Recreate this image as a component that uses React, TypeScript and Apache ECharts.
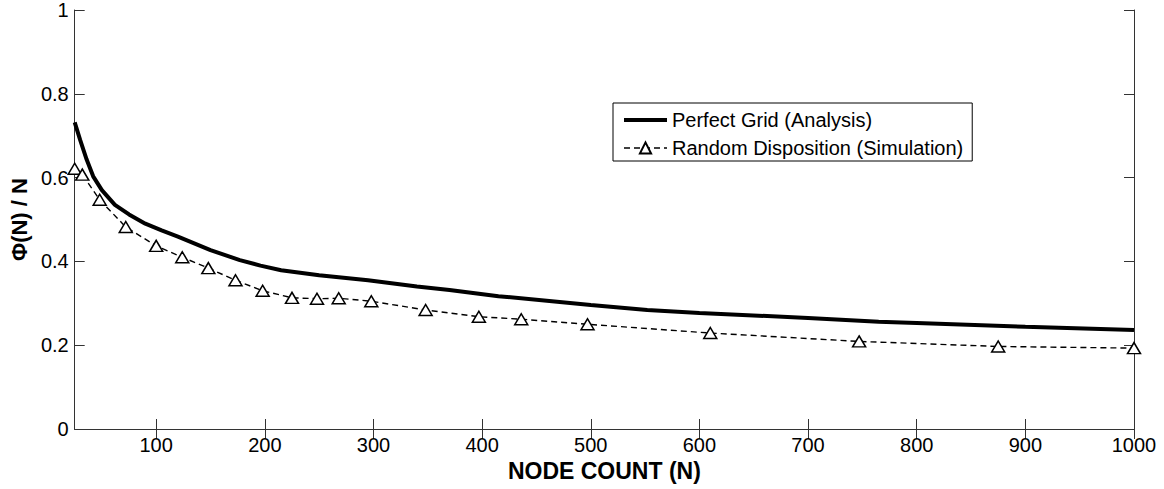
import React, { useEffect, useRef } from "react";
import * as echarts from "echarts";

const xTicks = [100, 200, 300, 400, 500, 600, 700, 800, 900, 1000];

const gridN = [25, 30, 36, 42, 50, 62, 75, 90, 105, 120, 150, 177, 196, 215, 250, 295, 340, 370, 415, 500, 552, 600, 700, 765, 800, 900, 1000];
const gridPhi = [0.732, 0.69, 0.643, 0.603, 0.57, 0.535, 0.512, 0.49, 0.474, 0.459, 0.427, 0.403, 0.39, 0.379, 0.367, 0.355, 0.34, 0.332, 0.317, 0.296, 0.284, 0.277, 0.265, 0.256, 0.253, 0.244, 0.236];

const randN = [25, 32, 48, 72, 100, 124, 148, 173, 198, 225, 248, 268, 298, 348, 397, 436, 497, 610, 747, 875, 1000];
const randPhi = [0.621, 0.607, 0.547, 0.482, 0.437, 0.41, 0.384, 0.355, 0.33, 0.313, 0.311, 0.312, 0.305, 0.284, 0.268, 0.262, 0.25, 0.229, 0.209, 0.197, 0.193];

const FONT = "'Liberation Sans', Arial, sans-serif";

export default function App() {
  const ref = useRef<HTMLDivElement>(null);
  useEffect(() => {
    if (!ref.current) return;
    const chart = echarts.init(ref.current, undefined, { renderer: "svg" });
    const axisLine = { show: true, lineStyle: { color: "#333", width: 1 } };
    chart.setOption({
      animation: false,
      backgroundColor: "#fff",
      grid: { left: 74, right: 30, top: 10, bottom: 60 },
      legend: {
        orient: "vertical",
        left: 613,
        top: 103,
        padding: [7, 9, 3, 9],
        itemGap: 8,
        itemWidth: 43,
        itemHeight: 14,
        borderColor: "#000",
        borderWidth: 1,
        backgroundColor: "#fff",
        textStyle: { fontFamily: FONT, fontSize: 20, color: "#000", lineHeight: 20 },
        data: [
          { name: "Perfect Grid (Analysis)", itemStyle: { opacity: 0 }, lineStyle: { width: 4, color: "#000" } },
          { name: "Random Disposition (Simulation)", lineStyle: { width: 1.4, color: "#000", type: [6, 4] } },
        ],
      },
      xAxis: [
        {
          type: "value",
          min: 25,
          max: 1000,
          position: "bottom",
          name: "NODE COUNT (N)",
          nameLocation: "middle",
          nameGap: 30,
          nameTextStyle: { fontFamily: FONT, fontSize: 23, fontWeight: "bold", color: "#000" },
          axisLine,
          axisTick: { show: true, inside: true, length: 10, customValues: xTicks, lineStyle: { color: "#333" } },
          axisLabel: {
            show: true,
            customValues: xTicks,
            margin: 6,
            fontFamily: FONT,
            fontSize: 20,
            color: "#000",
            formatter: (v: number) => String(v),
          },
          splitLine: { show: false },
        },
        {
          type: "value",
          min: 25,
          max: 1000,
          position: "top",
          axisLine,
          axisTick: { show: true, inside: true, length: 10, customValues: xTicks, lineStyle: { color: "#333" } },
          axisLabel: { show: false },
          splitLine: { show: false },
        },
      ],
      yAxis: [
        {
          type: "value",
          min: 0,
          max: 1,
          interval: 0.2,
          position: "left",
          name: "\u03A6(N) / N",
          nameLocation: "middle",
          nameGap: 43,
          nameTextStyle: { fontFamily: FONT, fontSize: 22, fontWeight: "bold", color: "#000" },
          axisLine,
          axisTick: { show: true, inside: true, length: 10, lineStyle: { color: "#333" } },
          axisLabel: { show: true, margin: 6, fontFamily: FONT, fontSize: 20, color: "#000" },
          splitLine: { show: false },
        },
        {
          type: "value",
          min: 0,
          max: 1,
          interval: 0.2,
          position: "right",
          axisLine,
          axisTick: { show: true, inside: true, length: 10, lineStyle: { color: "#333" } },
          axisLabel: { show: false },
          splitLine: { show: false },
        },
      ],
      series: [
        {
          name: "Perfect Grid (Analysis)",
          type: "line",
          data: gridN.map((n, i) => [n, gridPhi[i]]),
          showSymbol: false,
          symbol: "none",
          lineStyle: { color: "#000", width: 4 },
          itemStyle: { color: "#000" },
          smooth: false,
        },
        {
          name: "Random Disposition (Simulation)",
          type: "line",
          data: randN.map((n, i) => [n, randPhi[i]]),
          symbol: "triangle",
          symbolSize: [13, 11],
          showAllSymbol: true,
          lineStyle: { color: "#000", width: 1.4, type: [6, 4] },
          itemStyle: { color: "#fff", borderColor: "#000", borderWidth: 1.5 },
        },
      ],
    });
    return () => chart.dispose();
  }, []);
  return (
    <div
      ref={ref}
      style={{ position: "fixed", left: 0, top: 0, width: 1164, height: 489, background: "#fff" }}
    />
  );
}
